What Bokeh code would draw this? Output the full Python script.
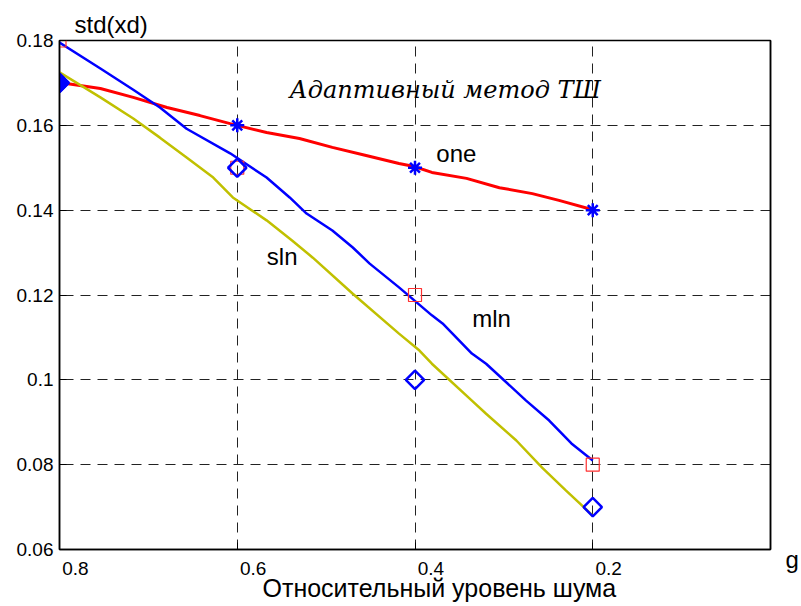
from bokeh.plotting import figure
from bokeh.models import (Range1d, Label, FixedTicker, CustomJSTickFormatter,
                          Title, LinearAxis)
from bokeh.embed import file_html
from bokeh.resources import INLINE

# --- data ---
one_x = [0.800, 0.754, 0.717, 0.679, 0.642, 0.608, 0.567, 0.530, 0.493, 0.455,
         0.418, 0.401, 0.381, 0.342, 0.305, 0.268, 0.238, 0.200]
one_y = [0.1701, 0.1687, 0.1666, 0.1642, 0.1623, 0.1604, 0.1583, 0.1569, 0.1548, 0.1529,
         0.1510, 0.1503, 0.1489, 0.1475, 0.1453, 0.1439, 0.1423, 0.1401]

mln_x = [0.800, 0.754, 0.717, 0.687, 0.657, 0.608, 0.567, 0.541, 0.522, 0.493, 0.470,
         0.451, 0.418, 0.381, 0.369, 0.336, 0.320, 0.275, 0.249, 0.224, 0.200]
mln_y = [0.1795, 0.1734, 0.1684, 0.1642, 0.1592, 0.1534, 0.1477, 0.1430, 0.1392, 0.1352, 0.1312,
         0.1274, 0.1218, 0.1152, 0.1133, 0.1062, 0.1038, 0.0951, 0.0904, 0.0850, 0.0810]

sln_x = [0.800, 0.754, 0.717, 0.687, 0.657, 0.627, 0.605, 0.567, 0.538, 0.515, 0.470,
         0.418, 0.395, 0.381, 0.336, 0.320, 0.286, 0.257, 0.230, 0.200]
sln_y = [0.1725, 0.1666, 0.1616, 0.1571, 0.1524, 0.1477, 0.1430, 0.1376, 0.1328, 0.1288, 0.1203,
         0.1109, 0.1069, 0.1038, 0.0951, 0.0920, 0.0857, 0.0793, 0.0739, 0.0680]

g_points = [0.8, 0.6, 0.4, 0.2]
star_y = [0.17, 0.16, 0.15, 0.14]
square_y = [0.18, 0.15, 0.12, 0.08]
diamond_y = [0.17, 0.15, 0.10, 0.07]

x_ticks = [0.8, 0.6, 0.4, 0.2]
y_ticks = [0.06, 0.08, 0.10, 0.12, 0.14, 0.16, 0.18]

SANS = "Liberation Sans"

p = figure(width=801, height=606,
           x_range=Range1d(0.8, 0.0), y_range=Range1d(0.06, 0.18),
           output_backend="svg", toolbar_location=None,
           min_border_left=59, min_border_right=29,
           min_border_top=40, min_border_bottom=57)

p.background_fill_color = "white"
p.border_fill_color = "white"
p.outline_line_color = "black"
p.outline_line_width = 1.5

# y-axis caption as the title (top left)
p.title.text = "std(xd)"
p.title.align = "left"
p.title.offset = 15
p.title.standoff = 6
p.title.text_font = SANS
p.title.text_font_size = "24px"
p.title.text_font_style = "normal"
p.title.text_color = "black"

# x labels sit a little to the right of their ticks, as in the original
x_fmt = CustomJSTickFormatter(
    code="return '\\u00a0'.repeat(6) + Number(tick.toFixed(2)).toString();")
y_fmt = CustomJSTickFormatter(code="return Number(tick.toFixed(2)).toString();")

p.xaxis.ticker = FixedTicker(ticks=x_ticks)
p.yaxis.ticker = FixedTicker(ticks=y_ticks)
p.xaxis.formatter = x_fmt
p.yaxis.formatter = y_fmt
for ax in (p.xaxis, p.yaxis):
    ax.axis_line_color = "black"
    ax.axis_line_width = 1.5
    ax.major_tick_in = 7
    ax.major_tick_out = 0
    ax.minor_tick_line_color = None
    ax.major_tick_line_color = "black"
    ax.major_label_text_font = SANS
    ax.major_label_text_font_size = "19px"
    ax.major_label_text_color = "black"
p.xaxis.major_label_standoff = 8
p.yaxis.major_label_standoff = 6

# x-axis caption
p.add_layout(Title(text="Относительный уровень шума", align="left", offset=203,
                   standoff=-19, text_font=SANS, text_font_size="25px",
                   text_font_style="normal", text_color="black"), "below")

# right axis carrying the "g" mark at the bottom right
g_axis = LinearAxis(ticker=FixedTicker(ticks=[0.06]),
                    formatter=CustomJSTickFormatter(code="return '\\ng';"))
g_axis.axis_line_color = "black"
g_axis.axis_line_width = 1.5
g_axis.major_tick_line_color = None
g_axis.minor_tick_line_color = None
g_axis.major_label_standoff = 9
g_axis.major_label_text_font = SANS
g_axis.major_label_text_font_size = "24px"
g_axis.major_label_text_line_height = 0.75
g_axis.major_label_text_color = "black"
p.add_layout(g_axis, "right")

for g in (p.xgrid, p.ygrid):
    g.grid_line_color = "#222222"
    g.grid_line_dash = "10 7"
    g.grid_line_width = 1

# lines
p.line(one_x, one_y, line_color="#ff0000", line_width=3)
p.line(mln_x, mln_y, line_color="#0000ff", line_width=2.5)
p.line(sln_x, sln_y, line_color="#c0c000", line_width=2.5)

# markers
DIAMOND = 0.7853981634
p.scatter(g_points, square_y, marker="square", size=13, fill_color=None,
          line_color="#ff3030", line_width=1.2)
p.scatter(g_points, diamond_y, marker="square", angle=DIAMOND, size=13, fill_color=None,
          line_color="#0000ff", line_width=2.5)
p.scatter(g_points[:1], diamond_y[:1], marker="square", angle=DIAMOND, size=13,
          fill_color="#0000ff", line_color="#0000ff", line_width=2.5)
p.scatter(g_points, star_y, marker="asterisk", size=14,
          line_color="#0000ff", line_width=2.5)

# annotations
p.add_layout(Label(x=0.366, y=0.1684, text="Адаптивный метод ТШ",
                   text_font="DejaVu Serif", text_font_style="italic",
                   text_font_size="24px", text_align="center",
                   text_baseline="alphabetic", text_color="black"))
for tx, ty, tt in ((0.376, 0.1533, "one"), (0.5667, 0.1290, "sln"), (0.3357, 0.1144, "mln")):
    p.add_layout(Label(x=tx, y=ty, text=tt, text_font=SANS, text_font_size="24px",
                       text_baseline="alphabetic", text_color="black"))

open("out.html", "w").write(file_html(p, INLINE))
